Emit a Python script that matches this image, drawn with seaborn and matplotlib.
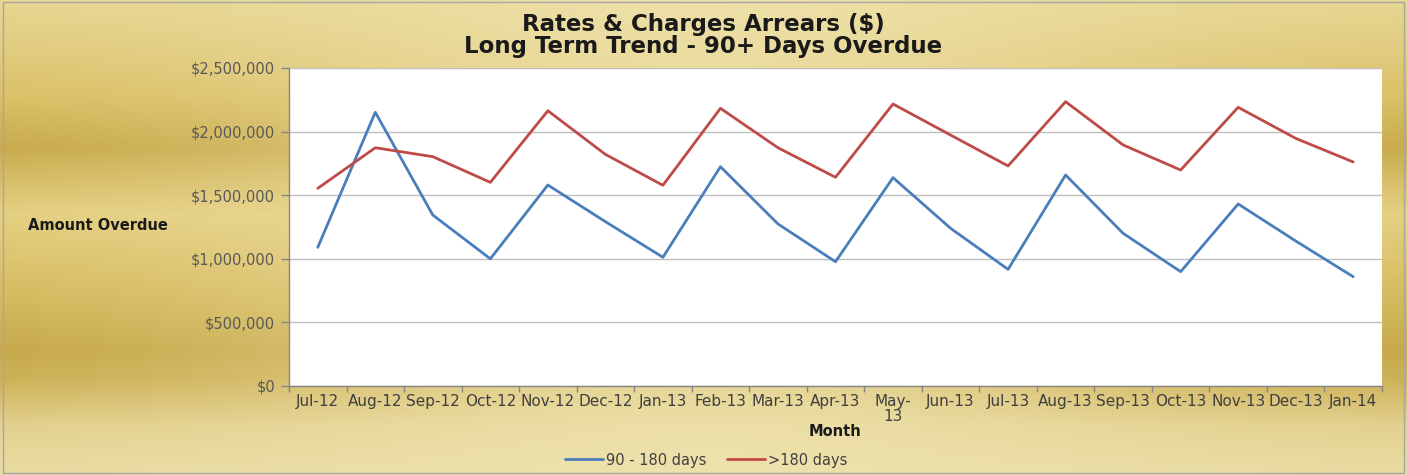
import numpy as np
import pandas as pd
import matplotlib
matplotlib.use("Agg")
import matplotlib.pyplot as plt
from matplotlib.colors import to_rgb
from matplotlib.ticker import FuncFormatter, FixedLocator
import seaborn as sns

# ---- data -------------------------------------------------------------
months = ["Jul-12", "Aug-12", "Sep-12", "Oct-12", "Nov-12", "Dec-12", "Jan-13",
          "Feb-13", "Mar-13", "Apr-13", "May-\n13", "Jun-13", "Jul-13", "Aug-13",
          "Sep-13", "Oct-13", "Nov-13", "Dec-13", "Jan-14"]
days_90_180 = [1090000, 2152000, 1344000, 1000000, 1580000, 1292000, 1012000,
               1724000, 1274000, 977000, 1638000, 1240000, 917000, 1659000,
               1200000, 899000, 1431000, 1140000, 859000]
days_180_plus = [1554000, 1873000, 1803000, 1601000, 2164000, 1821000, 1578000,
                 2183000, 1873000, 1641000, 2217000, 1973000, 1730000, 2235000,
                 1895000, 1698000, 2191000, 1947000, 1761000]
series_names = ["90 - 180 days", ">180 days"]
y_ticks = [0, 500000, 1000000, 1500000, 2000000, 2500000]

df = pd.DataFrame({
    "pos": list(range(len(months))) * 2,
    "amount": days_90_180 + days_180_plus,
    "series": [series_names[0]] * len(months) + [series_names[1]] * len(months),
})

palette = {series_names[0]: "#4A7EBB", series_names[1]: "#BE4B48"}

# ---- figure -----------------------------------------------------------
sns.set_theme(style="white")
plt.rcParams["font.family"] = ["DejaVu Sans"]

W, H, DPI = 1407, 475, 100
fig = plt.figure(figsize=(W / DPI, H / DPI), dpi=DPI)

# gold gradient backdrop
bg = fig.add_axes([0, 0, 1, 1], zorder=-10)
yy = np.linspace(0, 1, 300)
xx = np.linspace(0, 1, 700)
stops_y = [0.00, 0.10, 0.20, 0.31, 0.45, 0.60, 0.74, 0.80, 0.90, 1.00]
stops_c = ["#E7D690", "#E0CA7C", "#D9BE62", "#C6A746", "#E4CF80",
           "#D6BB5F", "#C4A544", "#CBAE52", "#E2D08E", "#E9DCA2"]
stops_rgb = np.array([to_rgb(c) for c in stops_c])
gold = np.stack([np.interp(yy, stops_y, stops_rgb[:, k]) for k in range(3)], axis=-1)
cream = np.array(to_rgb("#F0E4B0"))
w = 0.72 * np.exp(-((xx - 0.5) / 0.33) ** 2)
img = gold[:, None, :] * (1 - w[None, :, None]) + cream[None, None, :] * w[None, :, None]
bg.imshow(img, aspect="auto", extent=[0, 1, 0, 1], origin="upper")
bg.set_xlim(0, 1)
bg.set_ylim(0, 1)
bg.axis("off")
bg.add_patch(plt.Rectangle((0.002, 0.005), 0.996, 0.99, fill=False,
                           edgecolor="#A6A6A6", linewidth=1.0))

# plot area
left, right = 289 / W, 1382 / W
bottom, top = (H - 386) / H, (H - 68) / H
ax = fig.add_axes([left, bottom, right - left, top - bottom])
ax.set_facecolor("white")

sns.lineplot(data=df, x="pos", y="amount", hue="series", palette=palette,
             linewidth=2.0, ax=ax, legend=False, sort=False)

ax.set_xlim(-0.5, len(months) - 0.5)
ax.set_ylim(0, 2500000)

ax.yaxis.set_major_locator(FixedLocator(y_ticks))
ax.yaxis.set_major_formatter(FuncFormatter(lambda v, _: "${:,.0f}".format(v)))
ax.grid(axis="y", color="#BFBFBF", linewidth=1.0)
ax.set_axisbelow(True)

ax.set_xticks(range(len(months)))
ax.set_xticklabels(months, fontsize=11, color="#404040", linespacing=1.0)
ax.xaxis.set_minor_locator(FixedLocator(np.arange(-0.5, len(months), 1.0)))
ax.tick_params(axis="x", which="major", length=0, pad=6)
ax.tick_params(axis="x", which="minor", length=4, width=1, color="#868686",
               direction="out", bottom=True)
ax.tick_params(axis="y", length=6, width=1, color="#868686", direction="out",
               left=True, pad=4, labelsize=10.5, labelcolor="#595959")

for side in ["top", "right"]:
    ax.spines[side].set_visible(False)
for side in ["left", "bottom"]:
    ax.spines[side].set_color("#868686")
    ax.spines[side].set_linewidth(1.0)

ax.set_xlabel("")
ax.set_ylabel("")

# titles and axis labels
fig.text(703 / W, 1 - 24 / H, "Rates & Charges Arrears ($)", ha="center", va="center",
         fontsize=16.5, fontweight="bold", color="#1A1A1A")
fig.text(703 / W, 1 - 46 / H, "Long Term Trend - 90+ Days Overdue", ha="center",
         va="center", fontsize=16.5, fontweight="bold", color="#1A1A1A")
fig.text(28 / W, 1 - 226 / H, "Amount Overdue", ha="left", va="center",
         fontsize=10.5, fontweight="bold", color="#1A1A1A")
fig.text(835 / W, 1 - 432 / H, "Month", ha="center", va="center",
         fontsize=10.5, fontweight="bold", color="#1A1A1A")

# legend
handles = [plt.Line2D([], [], color=palette[n], linewidth=2.0) for n in series_names]
fig.legend(handles, series_names, loc="center", bbox_to_anchor=(706 / W, 1 - 460 / H),
           ncol=2, frameon=False, fontsize=10.5, handlelength=2.6, handletextpad=0.2,
           columnspacing=1.4, labelcolor="#404040")

fig.savefig("out.png", dpi=DPI)
